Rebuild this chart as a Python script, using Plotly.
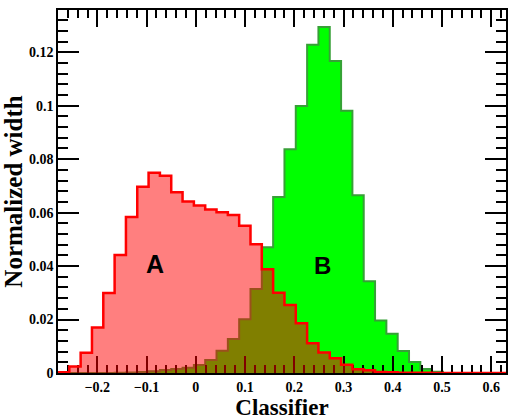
import numpy as np
import plotly.graph_objects as go

# ---- data ----
bin_start = -0.28
bin_width = 0.023

values_a = [0.0003, 0.0024, 0.0076, 0.0170, 0.0299, 0.0441, 0.0584, 0.0697, 0.0749, 0.0738,
            0.0676, 0.0642, 0.0627, 0.0612, 0.0601, 0.0591, 0.0551, 0.0482, 0.0388, 0.0300,
            0.0254, 0.0186, 0.0111, 0.0077, 0.0055, 0.0031, 0.0014, 0.0010, 0.0004, 0.0003,
            0.0001, 0.0001, 0.0001, 0.0, 0.0, 0.0, 0.0, 0.0, 0.0, 0.0]

values_b = [0.0, 0.0, 0.0, 0.0, 0.0, 0.0001, 0.0002, 0.0004, 0.0007, 0.0011,
            0.0015, 0.0020, 0.0030, 0.0049, 0.0083, 0.0127, 0.0201, 0.0314, 0.0470, 0.0658,
            0.0837, 0.0999, 0.1228, 0.1294, 0.1167, 0.0981, 0.0665, 0.0343, 0.0196, 0.0147,
            0.0082, 0.0041, 0.0015, 0.0005, 0.0, 0.0, 0.0, 0.0, 0.0, 0.0]

label_a = "A"
label_b = "B"
x_title = "Classifier"
y_title = "Normalized width"

edges = bin_start + bin_width * np.arange(len(values_a) + 1)


def step_xy(vals):
    x = [edges[0]] + list(edges[:-1]) + [edges[-1]]
    y = [0.0] + list(vals) + [0.0]
    return x, y


xb, yb = step_xy(values_b)
xa, ya = step_xy(values_a)

fig = go.Figure()
fig.add_trace(go.Scatter(
    x=xb, y=yb, mode="lines", line=dict(shape="hv", color="rgb(55,160,55)", width=2),
    fill="tozeroy", fillcolor="rgb(0,255,0)", xaxis="x", yaxis="y", hoverinfo="skip"))
fig.add_trace(go.Scatter(
    x=xa, y=ya, mode="lines", line=dict(shape="hv", color="rgb(255,0,0)", width=2.5),
    fill="tozeroy", fillcolor="rgba(255,0,0,0.5)", xaxis="x2", yaxis="y2", hoverinfo="skip"))

xr = [-0.28, 0.63]
yr = [0, 0.1358]
tickfont = dict(family="Liberation Serif", size=14, color="black", weight="bold")
xtitlefont = dict(family="Liberation Serif", size=23, color="black", weight="bold")
ytitlefont = dict(family="Liberation Serif", size=25, color="black", weight="bold")

fig.update_layout(
    width=509, height=420,
    margin=dict(l=58, r=1, t=10, b=47),
    paper_bgcolor="white", plot_bgcolor="rgba(0,0,0,0)",
    showlegend=False,
    xaxis=dict(domain=[0, 1], anchor="y", range=xr, showline=True, linecolor="black", linewidth=1.5,
               mirror="ticks", ticks="inside", ticklen=17, tickwidth=1.5, tickcolor="black",
               tick0=0, dtick=0.1,
               minor=dict(dtick=0.02, ticks="inside", ticklen=8, tickwidth=1.5, tickcolor="black"),
               showgrid=False, zeroline=False, tickfont=tickfont,
               title=dict(text=x_title, font=xtitlefont, standoff=2)),
    yaxis=dict(domain=[0, 1], anchor="x", range=yr, showline=True, linecolor="black", linewidth=1.5,
               mirror="ticks", ticks="inside", ticklen=21, tickwidth=1.5, tickcolor="black",
               tick0=0, dtick=0.02,
               minor=dict(dtick=0.004, ticks="inside", ticklen=10, tickwidth=1.5, tickcolor="black"),
               showgrid=False, zeroline=False, tickfont=tickfont,
               title=dict(text=y_title, font=ytitlefont, standoff=0)),
    xaxis2=dict(domain=[0, 1], anchor="y2", range=xr, visible=False),
    yaxis2=dict(domain=[0, 1], anchor="x2", range=yr, visible=False),
    annotations=[
        dict(x=-0.083, y=0.0406, xref="x", yref="y", text=label_a, showarrow=False,
             font=dict(family="Liberation Sans", size=25, color="black", weight="bold")),
        dict(x=0.258, y=0.0402, xref="x", yref="y", text=label_b, showarrow=False,
             font=dict(family="Liberation Sans", size=24, color="black", weight="bold")),
    ],
)

fig.write_html("out.html")
